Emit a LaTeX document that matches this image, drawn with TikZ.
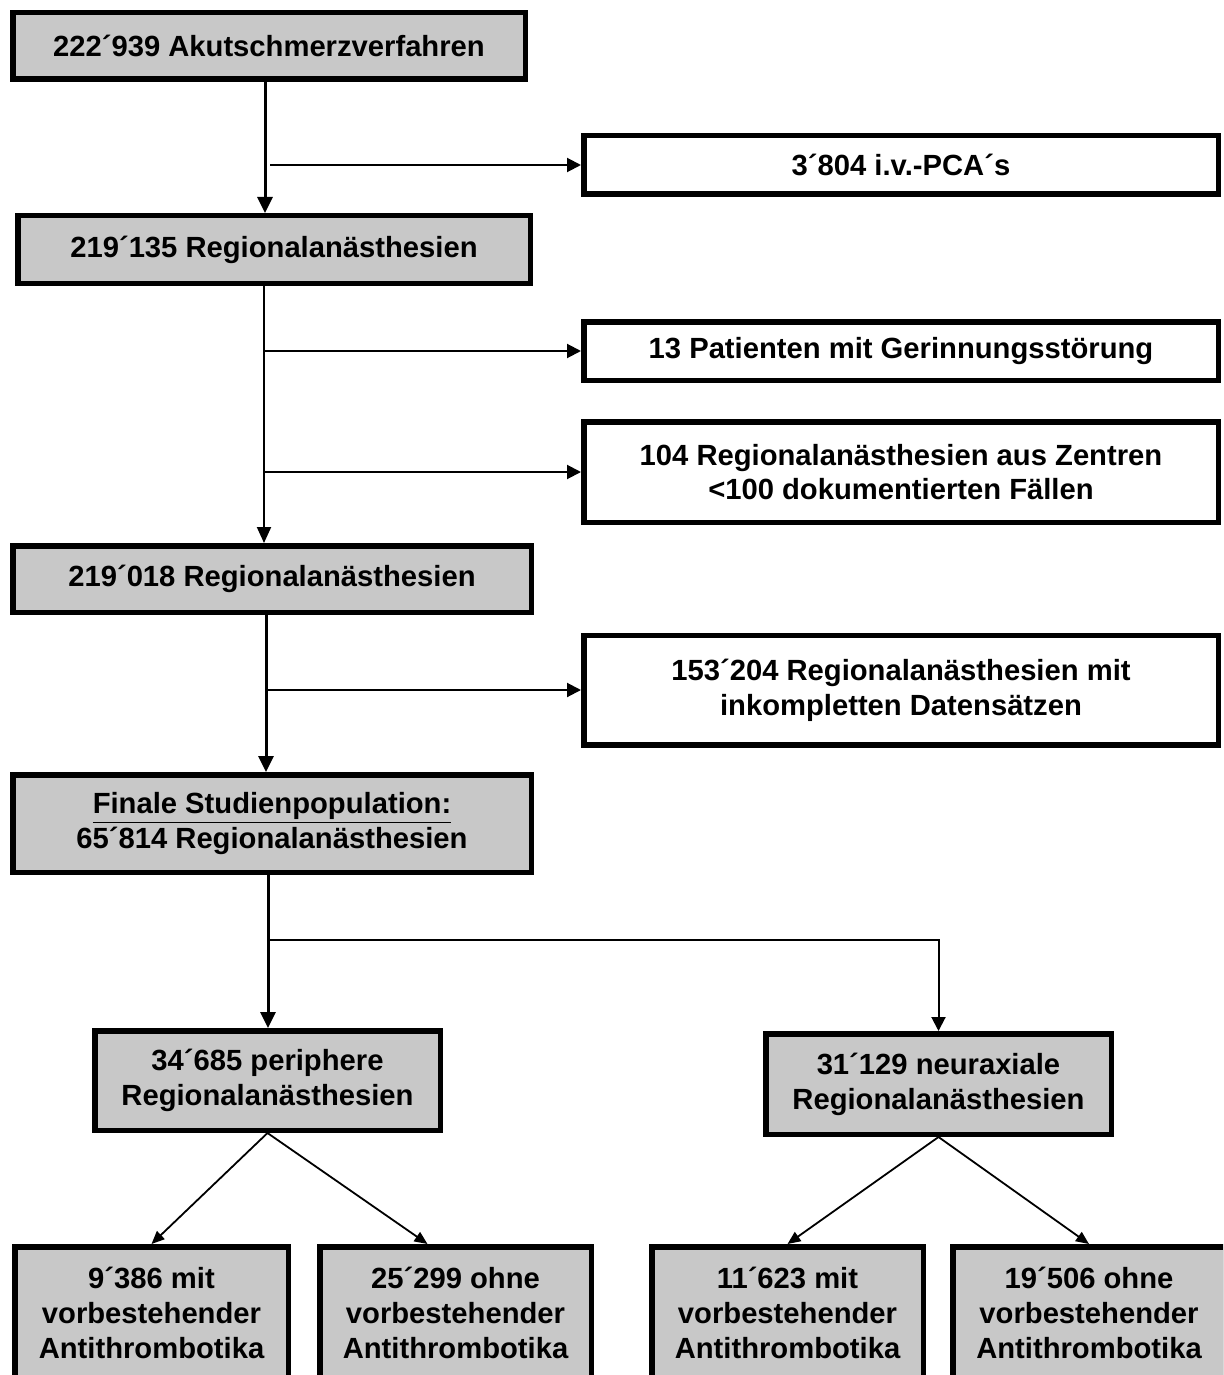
\documentclass[tikz,border=0pt]{standalone}
\usepackage{fontspec}
\setmainfont{Liberation Sans}
\usetikzlibrary{arrows.meta}
\definecolor{boxgray}{RGB}{200,200,200}
\tikzset{
  box/.style={draw, line width=2.75pt, align=center, inner sep=0pt,
    font=\fontsize{14.6pt}{17.4pt}\selectfont\bfseries},
  graybox/.style={box, fill=boxgray},
  whitebox/.style={box, fill=white},
  boxsize/.style 2 args={minimum width=#1*0.5pt-2.75pt, minimum height=#2*0.5pt-2.75pt},
  trunk/.style={line width=1.5pt, -{Triangle[length=8pt,width=7.5pt]}},
  thintrunk/.style={line width=1pt, -{Triangle[length=8pt,width=7pt]}},
  branch/.style={line width=1pt, -{Triangle[length=7pt,width=7pt]}},
  diag/.style={line width=0.9pt, -{Triangle[length=6.5pt,width=5.5pt]}}
}
\begin{document}
\begin{tikzpicture}[x=0.5pt,y=-0.5pt]
\useasboundingbox (0,0) rectangle (1223,1375);
\clip (0,0) rectangle (1223,1375);
% main column
\node[graybox, boxsize={518}{72}] (b1) at (269,46) {222´939 Akutschmerzverfahren};
\node[graybox, boxsize={518}{73}] (b3) at (274,249.5) {219´135 Regionalanästhesien};
\node[graybox, boxsize={524}{72}] (b6) at (272,579) {219´018 Regionalanästhesien};
\node[graybox, boxsize={524}{103}] (b8) at (272,823.5) {\underline{Finale Studienpopulation:}\\65´814 Regionalanästhesien};
% exclusions
\node[whitebox, boxsize={640}{64}] (b2) at (901,165) {3´804 i.v.-PCA´s};
\node[whitebox, boxsize={640}{64}] (b4) at (901,351) {13 Patienten mit Gerinnungsstörung};
\node[whitebox, boxsize={640}{106}] (b5) at (901,472) {104 Regionalanästhesien aus Zentren\\<100 dokumentierten Fällen};
\node[whitebox, boxsize={640}{115}] (b7) at (901,690) {153´204 Regionalanästhesien mit\\inkompletten Datensätzen};
% subgroups
\node[graybox, boxsize={351}{105}] (b9) at (267.5,1080.5) {34´685 periphere\\Regionalanästhesien};
\node[graybox, boxsize={351}{106}] (b10) at (938.5,1084) {31´129 neuraxiale\\Regionalanästhesien};
\node[graybox, boxsize={279}{138}] (b11) at (151.5,1313) {9´386 mit\\vorbestehender\\Antithrombotika};
\node[graybox, boxsize={277}{138}] (b12) at (455.5,1313) {25´299 ohne\\vorbestehender\\Antithrombotika};
\node[graybox, boxsize={277}{138}] (b13) at (787.5,1313) {11´623 mit\\vorbestehender\\Antithrombotika};
\node[graybox, boxsize={278}{138}] (b14) at (1089,1313) {19´506 ohne\\vorbestehender\\Antithrombotika};
% arrows
\draw[trunk] ([xshift=-2pt]b1.south) -- ([xshift=-2pt]b1.south |- b3.north);
\draw[branch] ([xshift=0.5pt]b1.south |- b2.west) -- (b2.west);
\draw[thintrunk] ([xshift=-5pt]b3.south) -- ([xshift=-5pt]b3.south |- b6.north);
\draw[branch] ([xshift=-5pt]b3.south |- b4.west) -- (b4.west);
\draw[branch] ([xshift=-5pt]b3.south |- b5.west) -- (b5.west);
\draw[trunk] ([xshift=-3pt]b6.south) -- ([xshift=-3pt]b6.south |- b8.north);
\draw[branch] ([xshift=-3pt]b6.south |- b7.west) -- (b7.west);
\draw[trunk] ([xshift=-2pt]b8.south) -- ([xshift=-2pt]b8.south |- b9.north);
\coordinate (fork) at (268,940);
\draw[branch] (fork) -| (b10.north);
\draw[diag] (b9.south) -- (b11.north);
\draw[diag] (b9.south) -- ([xshift=-14pt]b12.north);
\draw[diag] (b10.south) -- (b13.north);
\draw[diag] (b10.south) -- (b14.north);
\end{tikzpicture}
\end{document}
